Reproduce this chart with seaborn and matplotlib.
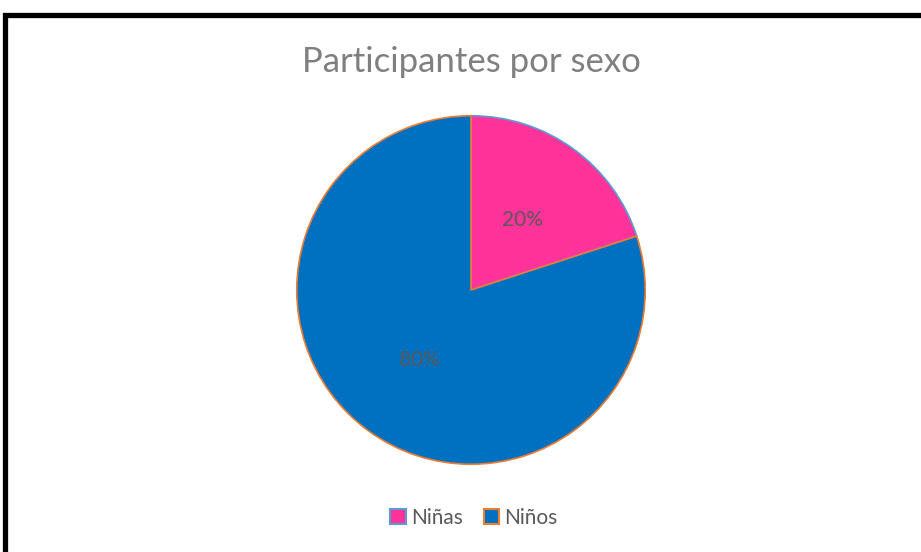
import matplotlib
matplotlib.use("Agg")
import matplotlib.pyplot as plt
import seaborn as sns
from matplotlib.patches import Rectangle, Patch

sns.set_style("white")
plt.rcParams['font.family'] = ['Lato', 'DejaVu Sans']

categories = ["Niñas", "Niños"]
values = [20, 80]
face_colors = ["#FF3399", "#0070C0"]
edge_colors = ["#5B9BD5", "#ED7D31"]
title = "Participantes por sexo"

W, H = 921, 552
fig = plt.figure(figsize=(W / 100, H / 100), dpi=100)
fig.patch.set_facecolor("white")

# outer frame
fig.patches.append(Rectangle((5 / W, -0.1), 1.2, 1 - 15 / H + 0.1, transform=fig.transFigure,
                             fill=False, edgecolor="black", linewidth=3.8, zorder=10))

cx, cy, r = 471, 290, 176
ax = fig.add_axes([(cx - r) / W, (H - cy - r) / H, 2 * r / W, 2 * r / H])
wedges, texts, autotexts = ax.pie(
    values, colors=face_colors, startangle=90, counterclock=False,
    autopct=lambda p: f"{p:.0f}%", pctdistance=0.5,
    wedgeprops=dict(linewidth=1.2),
    textprops=dict(color="#595959", fontsize=15))
for w, ec in zip(wedges, edge_colors):
    w.set_edgecolor(ec)
ax.set_xlim(-1.01, 1.01)
ax.set_ylim(-1.01, 1.01)
ax.axis("off")

fig.text(471 / W, 1 - 62 / H, title, ha="center", va="center", fontsize=25, color="#7F7F7F")

handles = [Patch(facecolor=fc, edgecolor=ec, linewidth=1.5) for fc, ec in zip(face_colors, edge_colors)]
fig.legend(handles, categories, loc="center", bbox_to_anchor=(474 / W, 1 - 518 / H), ncol=2,
           frameon=False, fontsize=15, labelcolor="#595959", handlelength=0.75, handleheight=0.75,
           handletextpad=0.25, columnspacing=1.0)

fig.savefig("out.png", dpi=100)
